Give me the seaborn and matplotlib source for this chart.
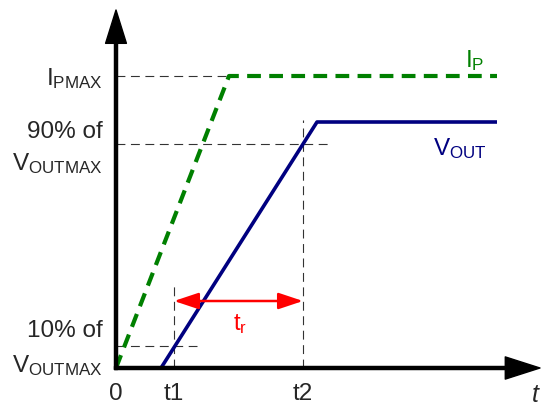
import numpy as np
import pandas as pd
import seaborn as sns
import matplotlib.pyplot as plt

# schematic levels and times (arbitrary units, origin at 0)
t_ip = [0, 113, 381]
ip = [0, 292, 292]
t_vout = [45, 201, 381]
vout = [0, 246, 246]

ipmax = 292
v90 = 224
v10 = 22
t1 = 58
t2 = 187

sns.set_style("white")
plt.rcParams["font.family"] = ["Liberation Sans", "DejaVu Sans"]
plt.rcParams["mathtext.fontset"] = "custom"
plt.rcParams["mathtext.rm"] = "Liberation Sans"
plt.rcParams["mathtext.it"] = "Liberation Sans:italic"

fig = plt.figure(figsize=(5.43, 4.07), dpi=100)
ax = fig.add_axes([0, 0, 1, 1])
ax.set_xlim(-116, 427)
ax.set_ylim(-39, 368)
ax.axis("off")

ip_df = pd.DataFrame({"t": t_ip, "I": ip})
v_df = pd.DataFrame({"t": t_vout, "V": vout})

# helper dashed lines
helper = dict(color="#333333", lw=0.8, dashes=(8, 5))
ax.plot([0, t_ip[1]], [ipmax, ipmax], **helper)
ax.plot([0, 214], [v90, v90], **helper)
ax.plot([t2, t2], [0, 248], **helper)
ax.plot([0, 81], [v10, v10], **helper)
ax.plot([t1, t1], [0, 83], **helper)

sns.lineplot(data=ip_df, x="t", y="I", ax=ax, color="#008000", lw=3,
             sort=False, dashes=False, linestyle=(0, (3.3, 2.0)))
sns.lineplot(data=v_df, x="t", y="V", ax=ax, color="#000080", lw=2.6,
             sort=False, solid_capstyle="butt")

# axes with arrowheads
ax.annotate("", xy=(0, 358), xytext=(0, -1.5),
            arrowprops=dict(width=2.2, headwidth=15, headlength=24,
                            color="black", shrink=0))
ax.annotate("", xy=(424, 0), xytext=(-1.5, 0),
            arrowprops=dict(width=2.2, headwidth=16, headlength=25,
                            color="black", shrink=0))

# rise time arrow
ax.annotate("", xy=(t2, 67), xytext=(t1, 67),
            arrowprops=dict(arrowstyle="<|-|>,head_length=1.5,head_width=0.5",
                            mutation_scale=10, color="red", lw=1.8,
                            shrinkA=0, shrinkB=0))
ax.text(117, 38, r"$\mathregular{t_r}$", color="red", fontsize=17,
        ha="left", va="baseline")

fs = 17.5
ax.text(-13, 283, r"$\mathregular{I_{PMAX}}$", fontsize=fs, ha="right", va="baseline")
ax.text(-13, 230, "90% of", fontsize=fs, ha="right", va="baseline")
ax.text(-13, 198, r"$\mathregular{V_{OUTMAX}}$", fontsize=fs, ha="right", va="baseline")
ax.text(-13, 31, "10% of", fontsize=fs, ha="right", va="baseline")
ax.text(-13, -4, r"$\mathregular{V_{OUTMAX}}$", fontsize=fs, ha="right", va="baseline")

ax.text(0, -32, "0", fontsize=fs, ha="center", va="baseline")
ax.text(t1, -32, "t1", fontsize=fs, ha="center", va="baseline")
ax.text(t2, -32, "t2", fontsize=fs, ha="center", va="baseline")
ax.text(419, -34, "t", fontsize=18, style="italic", ha="center", va="baseline")

ax.text(349, 301, r"$\mathregular{I_P}$", color="#008000", fontsize=fs,
        ha="left", va="baseline")
ax.text(317, 213, r"$\mathregular{V_{OUT}}$", color="#000080", fontsize=fs,
        ha="left", va="baseline")

fig.savefig("out.png", dpi=100)
